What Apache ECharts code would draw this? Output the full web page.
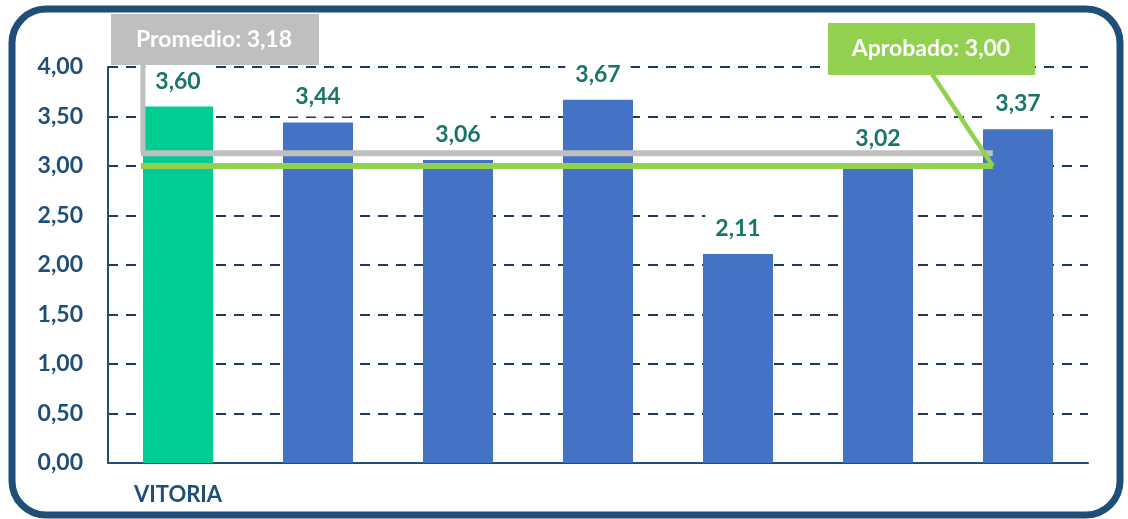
<!DOCTYPE html>
<html><head><meta charset="utf-8">
<script src="https://cdn.jsdelivr.net/npm/echarts@6/dist/echarts.min.js"></script>
<style>html,body{margin:0;padding:0;background:#fff}#c{width:1128px;height:519px}</style>
</head><body><div id="c"></div>
<script>
const categories = ['VITORIA', '', '', '', '', '', ''];
const values = [3.60, 3.44, 3.06, 3.67, 2.11, 3.02, 3.37];
const barColors = ['#00CC94', '#4472C4', '#4472C4', '#4472C4', '#4472C4', '#4472C4', '#4472C4'];
const yMin = 0, yMax = 4, yStep = 0.5;
const averageValue = 3.18;
const averageLabel = 'Promedio: 3,18';
const passValue = 3.00;
const passLabel = 'Aprobado: 3,00';

const FONT = 'Lato';
const NAVY = '#1F4E79';
const fmt = v => Number(v).toFixed(2).replace('.', ',');

const chart = echarts.init(document.getElementById('c'), null, {renderer: 'canvas'});
const option = {
  animation: false,
  backgroundColor: '#fff',
  grid: {left: 108, right: 40, top: 67, bottom: 56, containLabel: false},
  xAxis: {
    type: 'category',
    data: categories,
    axisLine: {show: true, lineStyle: {color: NAVY, width: 2}},
    axisTick: {show: false},
    axisLabel: {color: NAVY, fontFamily: FONT, fontWeight: 'bold', fontSize: 22, margin: 21, interval: 0}
  },
  yAxis: {
    type: 'value', min: yMin, max: yMax, interval: yStep,
    axisLine: {show: true, lineStyle: {color: NAVY, width: 2}},
    axisTick: {show: false},
    splitLine: {show: true, lineStyle: {color: '#1F3A5F', width: 2, type: [10, 8]}},
    axisLabel: {color: NAVY, fontFamily: FONT, fontWeight: 'bold', fontSize: 23, margin: 25, formatter: fmt}
  },
  series: [{
    type: 'bar',
    barWidth: '50%',
    data: values.map((v, i) => ({value: v, itemStyle: {color: barColors[i]}})),
    label: {
      show: true, position: 'top', distance: 6,
      color: '#17756A', fontFamily: FONT, fontWeight: 'bold', fontSize: 23,
      backgroundColor: '#fff', padding: [8, 10],
      formatter: p => fmt(p.value)
    }
  }]
};
chart.setOption(option);

function drawAnnotations() {
  // the reference's average shape sits a few pixels below its nominal value
  const yAvg = chart.convertToPixel({yAxisIndex: 0}, averageValue) + 5;
  const yPass = chart.convertToPixel({yAxisIndex: 0}, passValue);
  const xFirst = chart.convertToPixel({xAxisIndex: 0}, 0);
  const xLast = chart.convertToPixel({xAxisIndex: 0}, categories.length - 1);
  const step = (xLast - xFirst) / (categories.length - 1);
  const xStart = xFirst - 0.265 * step;
  const xEnd = xLast - 0.18 * step;
  const GRAY = '#BFBFBF', GREEN = '#92D050';
  chart.setOption({
    graphic: [
      {type: 'rect', shape: {x: 12, y: 9, width: 1108, height: 506, r: 34},
       style: {fill: 'none', stroke: NAVY, lineWidth: 7}, z: 100, silent: true},
      {type: 'line', shape: {x1: xStart, y1: yAvg, x2: xEnd, y2: yAvg},
       style: {stroke: GRAY, lineWidth: 6}, z: 50, silent: true},
      {type: 'line', shape: {x1: xStart + 2, y1: 62, x2: xStart + 2, y2: yAvg},
       style: {stroke: GRAY, lineWidth: 5}, z: 50, silent: true},
      {type: 'rect', shape: {x: 111, y: 14, width: 208, height: 51},
       style: {fill: GRAY}, z: 60, silent: true},
      {type: 'text', x: 214, y: 40, z: 61, silent: true,
       style: {text: averageLabel, fill: '#fff', font: 'bold 23px ' + FONT, align: 'center', verticalAlign: 'middle'}},
      {type: 'line', shape: {x1: xStart, y1: yPass, x2: xEnd, y2: yPass},
       style: {stroke: GREEN, lineWidth: 6}, z: 51, silent: true},
      {type: 'line', shape: {x1: 932, y1: 74, x2: xEnd, y2: yPass},
       style: {stroke: GREEN, lineWidth: 4.5}, z: 51, silent: true},
      {type: 'rect', shape: {x: 828, y: 23, width: 207, height: 52},
       style: {fill: GREEN}, z: 60, silent: true},
      {type: 'text', x: 931, y: 49, z: 61, silent: true,
       style: {text: passLabel, fill: '#fff', font: 'bold 23px ' + FONT, align: 'center', verticalAlign: 'middle'}}
    ]
  });
}
drawAnnotations();
</script></body></html>
